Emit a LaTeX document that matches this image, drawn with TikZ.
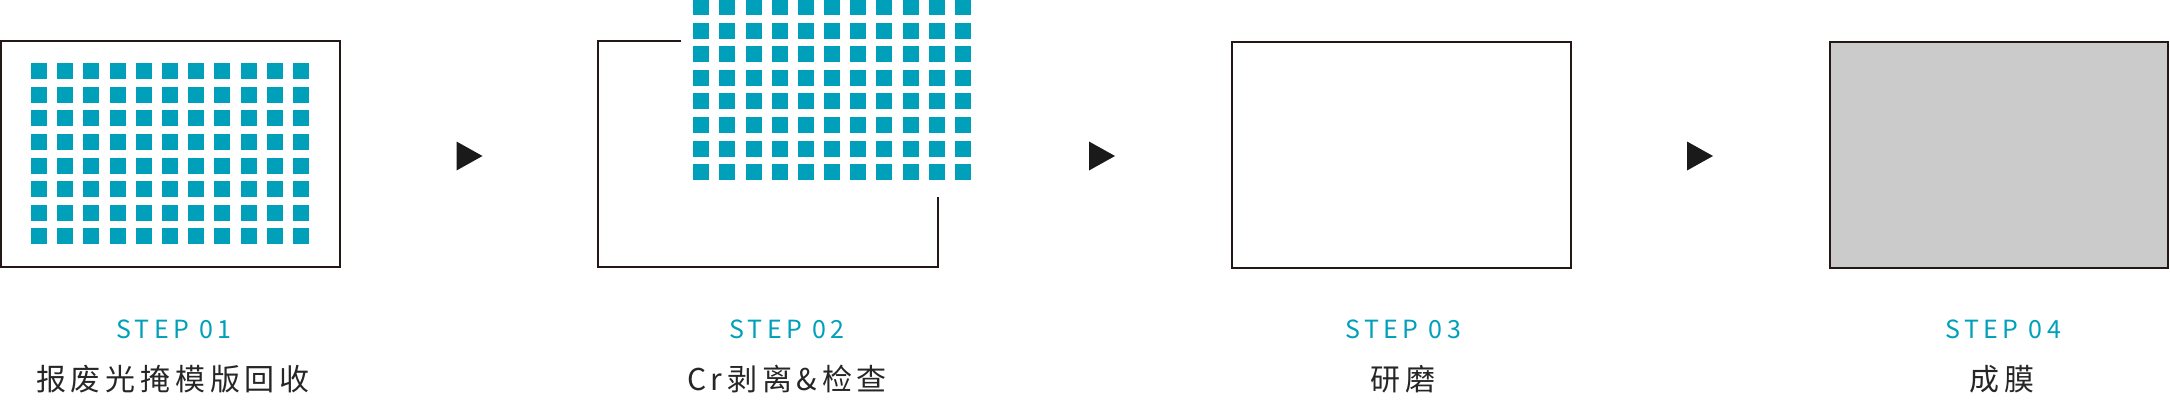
\documentclass[tikz,border=0pt]{standalone}
\usepackage{fontspec}
\setmainfont{Noto Sans CJK SC}
\usetikzlibrary{calc,positioning}
\definecolor{stepteal}{HTML}{00A0BA}
\definecolor{framedark}{HTML}{231815}
\definecolor{filmgray}{HTML}{CBCBCB}
\definecolor{tipdark}{HTML}{1A1A1A}
\tikzset{
  frame/.style={draw=framedark, line width=1pt},
  dot/.style={fill=stepteal},
  steptag/.style={anchor=base, text=stepteal,
    font=\fontsize{12.5}{14}\selectfont\addfontfeature{LetterSpace=18}},
  steptext/.style={anchor=base, text=black!85,
    font=\fontsize{15}{18}\selectfont\addfontfeature{LetterSpace=16}},
  pointer/.style={fill=tipdark}
}

\begin{document}
\begin{tikzpicture}[x=0.5pt, y=-0.5pt]
\useasboundingbox (0,0) rectangle (2170,402);

% step 1: mask with pattern
\draw[frame] (1,41) rectangle (340,267);
\foreach \i in {0,...,10}
  \foreach \j in {0,...,7}
    \fill[dot] ({31+26.2*\i},{63.3+23.57*\j}) rectangle ++(16,16);

% step 2: Cr layer lifted off
\draw[frame] (681,41) -- (598,41) -- (598,267) -- (938,267) -- (938,197);
\foreach \i in {0,...,10}
  \foreach \j in {0,...,7}
    \fill[dot] ({693.3+26.15*\i},{-0.9+23.57*\j}) rectangle ++(16,16);

% step 3 and 4
\draw[frame] (1232,42) rectangle (1571,268);
\draw[frame, fill=filmgray] (1830,42) rectangle (2168,268);

% arrows
\coordinate (a1) at (469.5,156);
\coordinate (a2) at (1102,156);
\coordinate (a3) at (1700,156);
\foreach \a in {a1,a2,a3}
  \fill[pointer] ($(\a)+(-13,-14.5)$) -- ($(\a)+(13,0)$) -- ($(\a)+(-13,14.5)$) -- cycle;

% labels
\node[steptag] (t1) at (174,338) {STEP 01};
\node[steptag] (t2) at (787,338) {STEP 02};
\node[steptag] (t3) at (1403,338) {STEP 03};
\node[steptag] (t4) at (2003,338) {STEP 04};
\node[steptext] (n1) at (173,390) {报废光掩模版回收};
\node[steptext] (n2) at (787,390) {Cr剥离\&检查};
\node[steptext] (n3) at (1403,390) {研磨};
\node[steptext] (n4) at (2002,390) {成膜};
\end{tikzpicture}
\end{document}
